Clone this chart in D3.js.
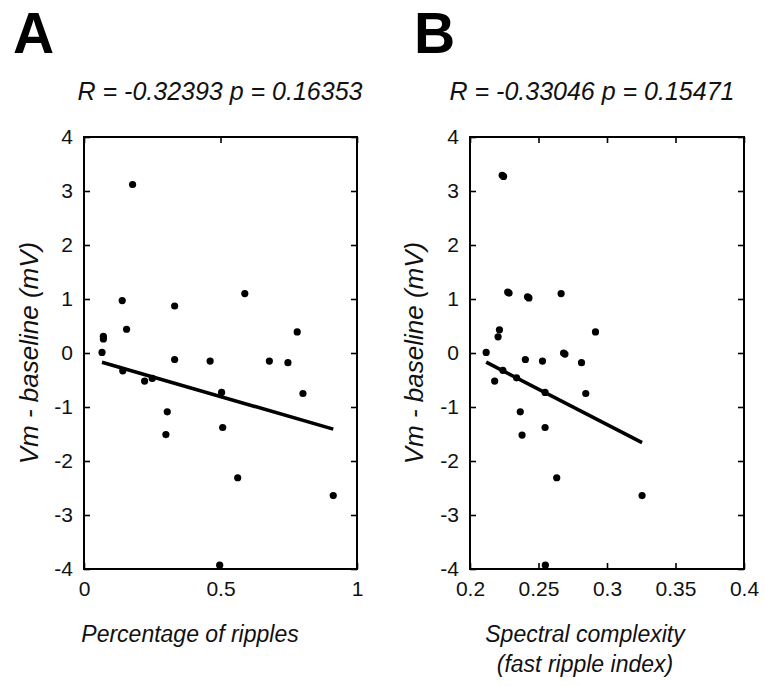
<!DOCTYPE html>
<html>
<head>
<meta charset="utf-8">
<script src="https://cdn.jsdelivr.net/npm/d3@7"></script>
<style>
  body { margin: 0; background: #fff; }
  svg { display: block; font-family: "Liberation Sans", Arial, sans-serif; }
</style>
</head>
<body>
<script>
// panel A: percentage of ripples vs Vm - baseline
var pctRipples = [0.178, 0.14, 0.332, 0.589, 0.156, 0.781, 0.071, 0.071, 0.066, 0.332, 0.462, 0.679,
  0.747, 0.142, 0.222, 0.25, 0.504, 0.802, 0.305, 0.30, 0.508, 0.563, 0.913, 0.497];
var vmA = [3.12, 0.97, 0.87, 1.1, 0.44, 0.39, 0.31, 0.26, 0.01, -0.12, -0.15, -0.15,
  -0.18, -0.33, -0.52, -0.47, -0.73, -0.75, -1.09, -1.51, -1.38, -2.31, -2.64, -3.93];
var fitAx = [0.066, 0.913],
  fitAy = [-0.17, -1.41];

// panel B: spectral complexity vs Vm - baseline (big dots = overlapping points)
var specComplexity = [0.2235, 0.2245, 0.2275, 0.2285, 0.242, 0.243, 0.2665, 0.2215, 0.2205, 0.2118,
  0.2404, 0.2529, 0.2683, 0.2693, 0.2814, 0.2916, 0.218, 0.224, 0.234, 0.2548, 0.2845, 0.2367, 0.238,
  0.2548, 0.2633, 0.255, 0.3256];
var vmB = [3.29, 3.27, 1.13, 1.11, 1.04, 1.02, 1.1, 0.43, 0.30, 0.01,
  -0.12, -0.15, 0.0, -0.02, -0.18, 0.39, -0.52, -0.32, -0.46, -0.73, -0.75, -1.09, -1.52,
  -1.38, -2.31, -3.93, -2.64];
var fitBx = [0.2118, 0.3256],
  fitBy = [-0.17, -1.66];

var yTicks = [-4, -3, -2, -1, 0, 1, 2, 3, 4];
var xTicksA = [0, 0.5, 1];
var xTicksB = [0.2, 0.25, 0.3, 0.35, 0.4];

var w = 764, h = 686;
var svg = d3.select("body").append("svg").attr("width", w).attr("height", h);

// matlab style labels: plain hyphen for minus
var fmt = function (d) { return String(d); };

function drawPanel(p) {
  var x = d3.scaleLinear().domain(p.xDomain).range([p.left, p.right]);
  var y = d3.scaleLinear().domain([-4, 4]).range([569, 137]);
  var g = svg.append("g");

  // points
  g.selectAll("circle")
    .data(p.xs)
    .enter()
    .append("circle")
    .attr("cx", function (d) { return x(d); })
    .attr("cy", function (d, i) { return y(p.ys[i]); })
    .attr("r", 3.6)
    .attr("fill", "#000");

  // regression line
  g.append("line")
    .attr("x1", x(p.fitX[0])).attr("y1", y(p.fitY[0]))
    .attr("x2", x(p.fitX[1])).attr("y2", y(p.fitY[1]))
    .attr("stroke", "#000").attr("stroke-width", 3.6);

  // box axes with inward ticks on all sides
  var tl = 6;
  var bottom = g.append("g").attr("transform", "translate(0,569)")
    .call(d3.axisBottom(x).tickValues(p.xTicks).tickSize(-tl).tickPadding(12).tickFormat(fmt));
  var top = g.append("g").attr("transform", "translate(0,137)")
    .call(d3.axisTop(x).tickValues(p.xTicks).tickSize(-tl).tickFormat(""));
  var left = g.append("g").attr("transform", "translate(" + p.left + ",0)")
    .call(d3.axisLeft(y).tickValues(yTicks).tickSize(-tl).tickPadding(11).tickFormat(fmt));
  var right = g.append("g").attr("transform", "translate(" + p.right + ",0)")
    .call(d3.axisRight(y).tickValues(yTicks).tickSize(-tl).tickFormat(""));
  [bottom, top, left, right].forEach(function (a) {
    a.select(".domain").remove();
    a.selectAll("line").attr("stroke", "#000").attr("stroke-width", 1.6);
  });
  bottom.selectAll("text").attr("font-size", 21).attr("fill", "#111").attr("font-family", null);
  left.selectAll("text").attr("font-size", 21).attr("fill", "#111").attr("font-family", null);

  g.append("rect")
    .attr("x", p.left).attr("y", 137)
    .attr("width", p.right - p.left).attr("height", 569 - 137)
    .attr("fill", "none").attr("stroke", "#000").attr("stroke-width", 2);

  // panel letter
  svg.append("text").attr("x", p.letterX).attr("y", 53)
    .attr("font-size", 57).attr("font-weight", "bold").text(p.letter);

  // stats title
  svg.append("text").attr("x", p.titleX).attr("y", 100)
    .attr("text-anchor", "middle").attr("font-size", 25).attr("font-style", "italic")
    .attr("fill", "#111").text(p.title);

  // y label
  svg.append("text")
    .attr("transform", "translate(" + p.yLabelX + ",353) rotate(-90)")
    .attr("text-anchor", "middle").attr("font-size", 26).attr("font-style", "italic")
    .attr("fill", "#111").text("Vm - baseline (mV)");

  // x label
  p.xLabel.forEach(function (line, i) {
    svg.append("text").attr("x", p.xLabelX).attr("y", 642 + i * 30)
      .attr("text-anchor", "middle").attr("font-size", 23).attr("font-style", "italic")
      .attr("fill", "#111").text(line);
  });
}

drawPanel({
  xs: pctRipples, ys: vmA, fitX: fitAx, fitY: fitAy,
  xDomain: [0, 1], xTicks: xTicksA, left: 84, right: 357,
  letter: "A", letterX: 13, title: "R = -0.32393 p = 0.16353", titleX: 220,
  yLabelX: 38, xLabel: ["Percentage of ripples"], xLabelX: 190
});

drawPanel({
  xs: specComplexity, ys: vmB, fitX: fitBx, fitY: fitBy,
  xDomain: [0.2, 0.4], xTicks: xTicksB, left: 470, right: 744,
  letter: "B", letterX: 414, title: "R = -0.33046 p = 0.15471", titleX: 592,
  yLabelX: 423, xLabel: ["Spectral complexity", "(fast ripple index)"], xLabelX: 585
});
</script>
</body>
</html>
